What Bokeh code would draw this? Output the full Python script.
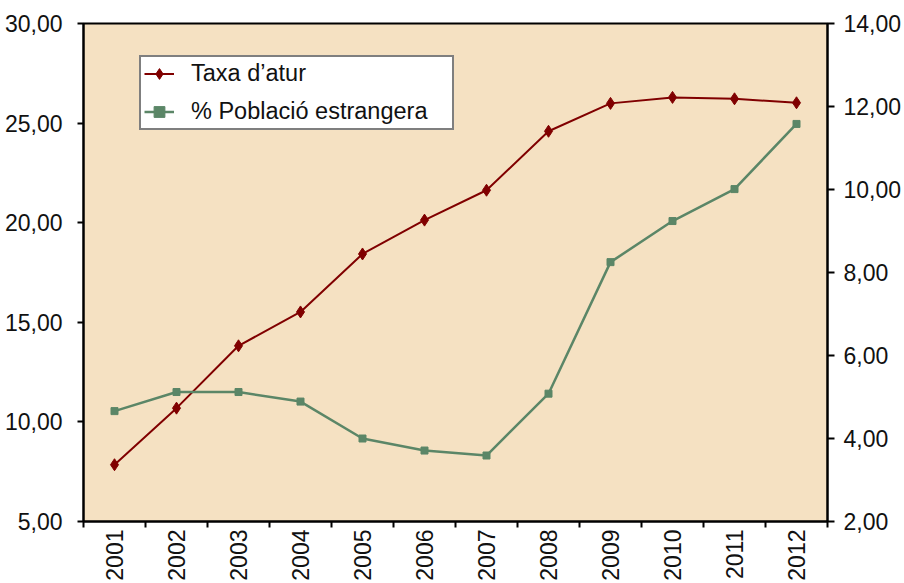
import math
from bokeh.plotting import figure
from bokeh.models import (Range1d, LinearAxis, FixedTicker, CustomJSTickFormatter,
                          Legend, LegendItem, ColumnDataSource)
from bokeh.embed import file_html
from bokeh.resources import INLINE

years = ["2001", "2002", "2003", "2004", "2005", "2006",
         "2007", "2008", "2009", "2010", "2011", "2012"]
taxa_atur = [7.85, 10.69, 13.82, 15.52, 18.43, 20.13, 21.63, 24.59, 25.99, 26.29, 26.22, 26.02]
poblacio_estrangera = [4.66, 5.12, 5.12, 4.89, 4.00, 3.71, 3.59, 5.08, 8.25, 9.24, 10.01, 11.58]
left_ticks = [5, 10, 15, 20, 25, 30]
right_ticks = [2, 4, 6, 8, 10, 12, 14]
label_taxa = "Taxa d\u2019atur"
label_pobl = "% Poblaci\u00f3 estrangera"

FONT = "Liberation Sans"
FS = "23px"
TXT = "#111111"
RED = "#800000"
GREEN = "#5B8667"
BG = "#F5E1C2"

n = len(years)
xpos = [i + 0.5 for i in range(n)]
src = ColumnDataSource(dict(x=xpos, taxa=taxa_atur, pobl=poblacio_estrangera))

p = figure(width=904, height=583, output_backend="svg", toolbar_location=None,
           x_range=Range1d(0, n), y_range=Range1d(left_ticks[0], left_ticks[-1]),
           min_border_top=23, min_border_left=83, min_border_right=75, min_border_bottom=61)
p.extra_y_ranges = {"right": Range1d(right_ticks[0], right_ticks[-1])}

p.background_fill_color = BG
p.border_fill_color = "white"
p.outline_line_color = "black"
p.outline_line_width = 2
p.grid.visible = False

fmt = CustomJSTickFormatter(code="return tick.toFixed(2).replace('.', ',');")

# x axis: labels at category centres, tick marks at category boundaries
xa = p.xaxis[0]
xa.ticker = FixedTicker(ticks=xpos, minor_ticks=list(range(n + 1)))
xa.major_label_overrides = {x: y for x, y in zip(xpos, years)}
xa.major_tick_line_color = None
xa.minor_tick_out = 6
xa.minor_tick_in = 0
xa.major_label_orientation = math.pi / 2
xa.major_label_standoff = 2

ya = p.yaxis[0]
ya.ticker = FixedTicker(ticks=left_ticks, minor_ticks=[])
ya.formatter = fmt
ya.major_tick_out = 6
ya.major_tick_in = 0
ya.major_label_standoff = 15

ra = LinearAxis(y_range_name="right", ticker=FixedTicker(ticks=right_ticks, minor_ticks=[]),
                formatter=fmt)
ra.major_tick_out = 7
ra.major_tick_in = 0
ra.major_label_standoff = 9
p.add_layout(ra, "right")

for ax in [xa, ya, ra]:
    ax.axis_line_color = "black"
    ax.axis_line_width = 2
    ax.major_tick_line_width = 2
    ax.minor_tick_line_width = 2
    ax.major_label_text_font = FONT
    ax.major_label_text_font_size = FS
    ax.major_label_text_color = TXT
    ax.minor_tick_line_color = "black" if ax is xa else None

l1 = p.line("x", "taxa", source=src, line_color=RED, line_width=2)
m1 = p.scatter("x", "taxa", source=src, marker="diamond", size=12,
               fill_color=RED, line_color=RED)
l2 = p.line("x", "pobl", source=src, line_color=GREEN, line_width=2.5, y_range_name="right")
m2 = p.scatter("x", "pobl", source=src, marker="square", size=7,
               fill_color=GREEN, line_color=GREEN, y_range_name="right")

legend = Legend(items=[LegendItem(label=label_taxa, renderers=[l1, m1]),
                       LegendItem(label=label_pobl, renderers=[l2, m2])],
                location=(56, 391))
legend.label_text_font = FONT
legend.label_text_font_size = "23.5px"
legend.label_text_color = TXT
legend.border_line_color = "black"
legend.border_line_width = 2
legend.background_fill_color = "white"
legend.background_fill_alpha = 1
legend.glyph_width = 30
legend.glyph_height = 27
legend.label_height = 27
legend.label_width = 258
legend.label_standoff = 17
legend.spacing = 11
legend.padding = 3
legend.margin = 0
p.add_layout(legend, "center")

open("out.html", "w").write(file_html(p, INLINE))
